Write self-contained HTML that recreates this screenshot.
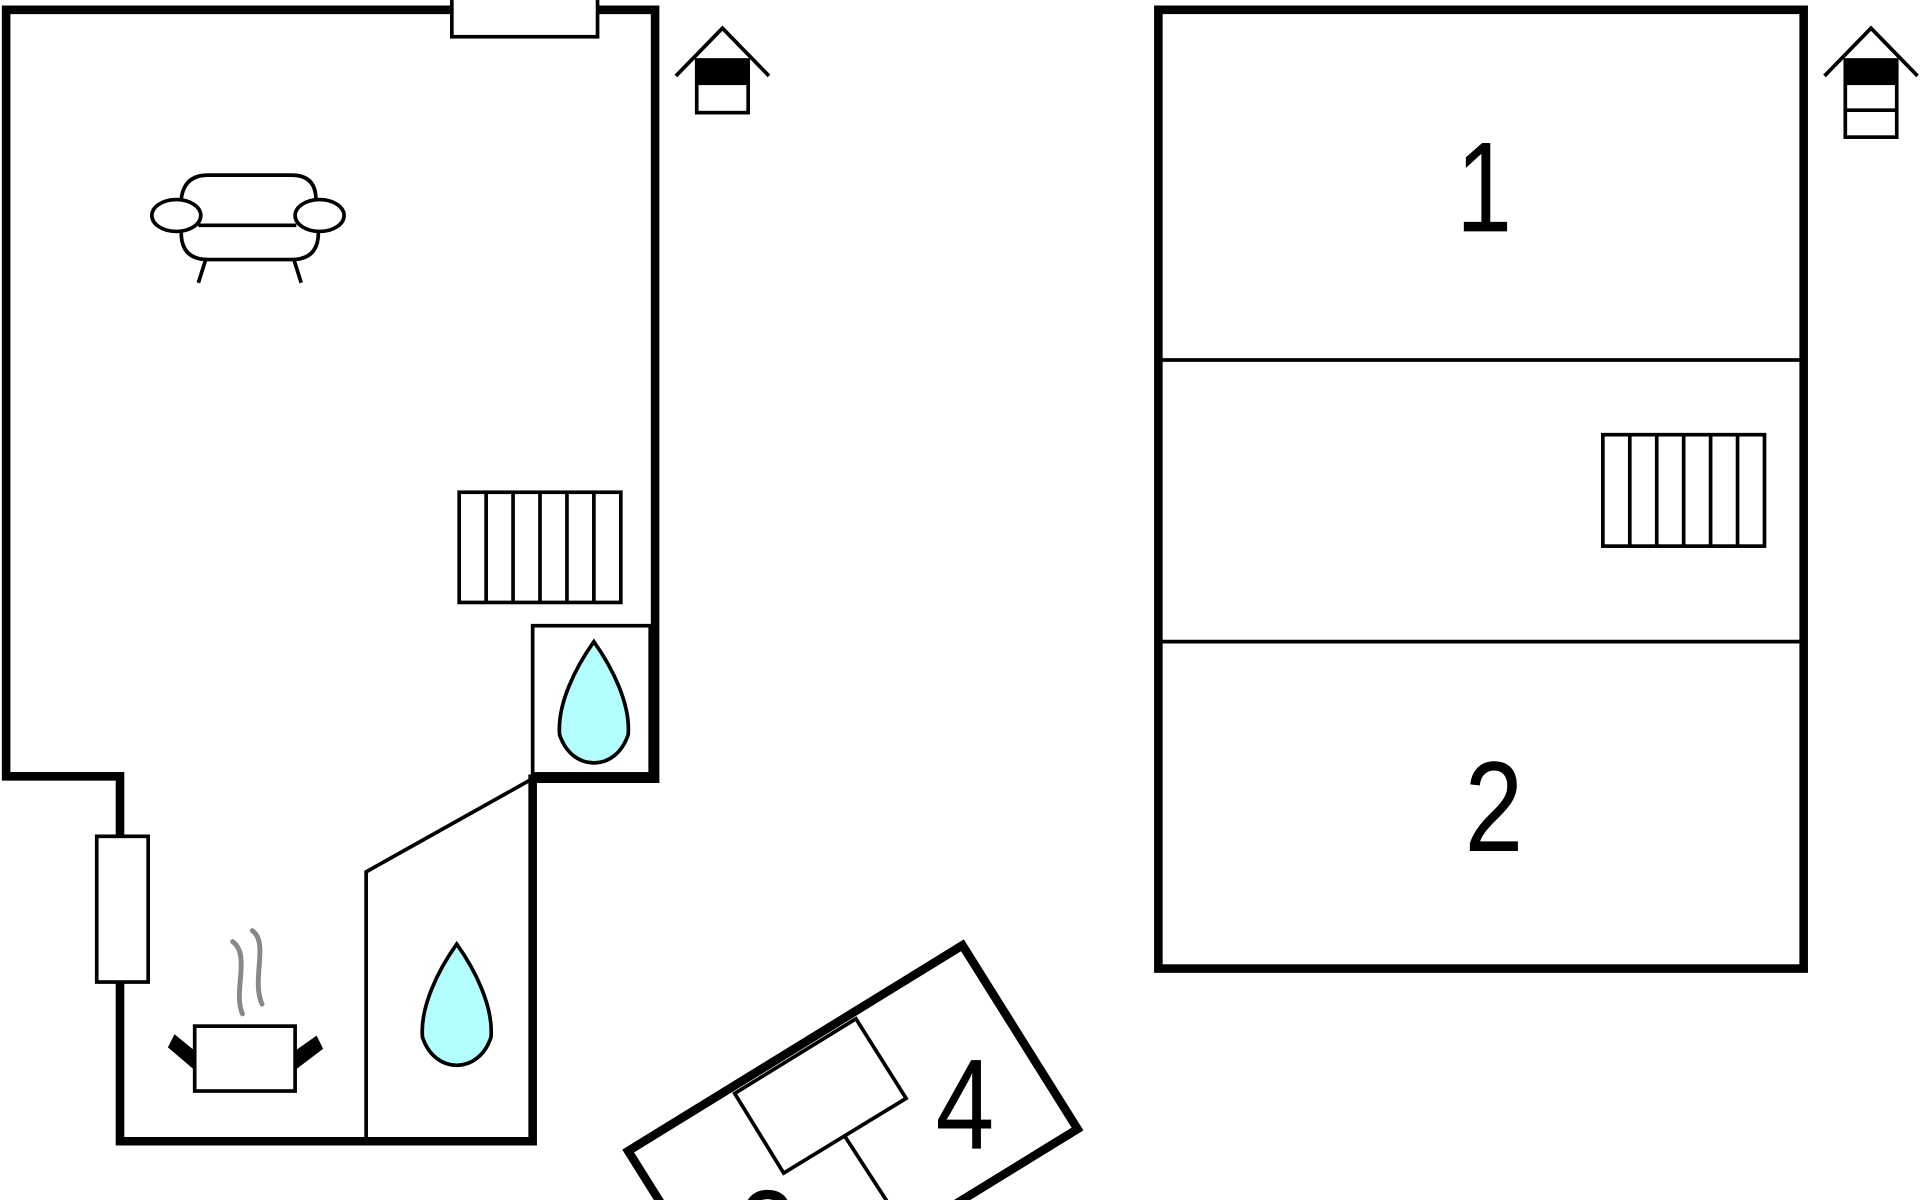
<!DOCTYPE html>
<html><head><meta charset="utf-8"><style>html,body{margin:0;padding:0;background:#fff;overflow:hidden;width:1920px;height:1200px}svg{display:block;overflow:hidden}</style></head>
<body>
<svg width="1920" height="1200" viewBox="0 0 1568 980" xmlns="http://www.w3.org/2000/svg">
<rect width="1568" height="980" fill="#fff"/>
<g fill="none" stroke="#000" stroke-linejoin="miter">
<path d="M5 8 H535 V636 H435 V932 H98 V634 H5 Z" stroke-width="7"/>
<rect x="369" y="-2" width="119" height="32" fill="#fff" stroke-width="3"/>
<rect x="79" y="683" width="42" height="119" fill="#fff" stroke-width="3"/>
<rect x="435" y="511" width="96" height="121" stroke-width="3"/>
<path d="M433 637 L299 712 V932" stroke-width="3"/>
<rect x="375" y="402" width="132" height="90" stroke-width="3"/>
<path d="M397 402V492M419 402V492M441 402V492M463 402V492M485 402V492" stroke-width="3"/>
<rect x="946" y="8" width="527" height="783" stroke-width="7"/>
<path d="M946 294H1473M946 524H1473" stroke-width="3"/>
<rect x="1309" y="355" width="132" height="91" stroke-width="3"/>
<path d="M1331 355V446M1353 355V446M1375 355V446M1397 355V446M1419 355V446" stroke-width="3"/>
<polygon points="513,940 786,772 880,922 607,1090" stroke-width="7"/>
<polygon points="600,893 699,832 740,897 640,958" stroke-width="3"/>
<path d="M690 928 L725 982" stroke-width="3"/>
<path d="M552 62 L590 23 L628 62" stroke-width="3"/>
<rect x="569" y="49" width="42" height="43" stroke-width="3"/>
<rect x="569" y="49" width="42" height="20" fill="#000"/>
<path d="M1490 62 L1528 23 L1566 62" stroke-width="3"/>
<rect x="1507" y="49" width="42" height="63" stroke-width="3"/>
<rect x="1507" y="49" width="42" height="20" fill="#000"/>
<path d="M1507 90H1549" stroke-width="3"/>
<g stroke-width="3">
<path d="M148 163 Q150 143 170 143 H238 Q258 143 258 163"/>
<path d="M148 190 Q148 212 170 212 H238 Q260 212 260 190"/>
<path d="M162 184 H242"/>
<ellipse cx="144" cy="176" rx="20" ry="13" fill="#fff"/>
<ellipse cx="261" cy="176" rx="20" ry="13" fill="#fff"/>
<path d="M168 212 L162 231 M240 212 L246 231"/>
</g>
<path d="M485 524 C470 545 455 575 457 600 C462 615 473 623 485 623 C497 623 508 615 513 600 C515 575 500 545 485 524 Z" fill="#b3ffff" stroke-width="3"/>
<path d="M373 771 C358 792 343 822 345 847 C350 862 361 870 373 870 C385 870 396 862 401 847 C403 822 388 792 373 771 Z" fill="#b3ffff" stroke-width="3"/>
<g stroke-width="3">
<path d="M159 860 L143 847 L139 855 L159 872 Z M241 860 L258 848 L262 856 L241 872 Z" fill="#000"/>
<rect x="159" y="838" width="82" height="53" fill="#fff"/>
</g>
<path d="M190 769 C205 780 190 810 198 828 M206 760 C220 770 205 800 214 820" stroke="#888" stroke-width="4" stroke-linecap="round"/>
</g>
<g font-family="Liberation Sans, sans-serif" font-size="105" fill="#000" text-anchor="middle">
<text transform="translate(1212 189) scale(0.78 1)">1</text>
<text transform="translate(1220 695) scale(0.82 1)">2</text>
<text transform="translate(788 938) scale(0.82 1)">4</text>
<text transform="translate(627 1045) scale(0.82 1)">3</text>
</g>
</svg>
</body></html>
